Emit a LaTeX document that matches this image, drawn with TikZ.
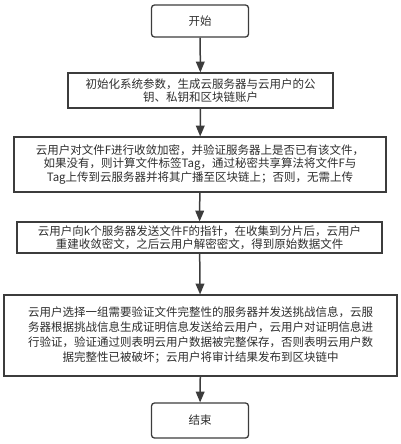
\documentclass[tikz,border=0pt]{standalone}
\usepackage{fontspec}
\setmainfont{Noto Sans CJK SC}
\usepackage{tikz}
\usetikzlibrary{arrows}
\definecolor{linegray}{RGB}{60,60,60}
\definecolor{textgray}{RGB}{45,45,45}
\tikzstyle{line} = [draw=linegray, -{triangle 45}, line width=1.5pt]
\tikzstyle{block} = [draw=linegray, line width=1.3pt, rectangle, align=center, inner sep=0pt, text=textgray]
\tikzstyle{terminal} = [block, rounded corners=3pt, minimum width=97pt]

\begin{document}
\begin{tikzpicture}[x=1pt,y=-1pt]
	\tikzstyle{every node}=[font=\fontsize{11.5}{13.5}\selectfont]
	\useasboundingbox (0,0) rectangle (401,444);

	% ------------------- Boxes ------------------- %
	\node[terminal, minimum height=32pt] (start) at (200,21) {开始};
	\node[block, minimum width=265pt, minimum height=35pt] (init) at (200.5,90.5)
		{初始化系统参数，生成云服务器与云用户的公\\钥、私钥和区块链账户};
	\node[block, minimum width=372pt, minimum height=55pt] (upload) at (200,164.5)
		{云用户对文件F进行收敛加密，并验证服务器上是否已有该文件，\\如果没有，则计算文件标签Tag，通过秘密共享算法将文件F与\\Tag上传到云服务器并将其广播至区块链上；否则，无需上传};
	\node[block, minimum width=365pt, minimum height=31pt] (download) at (199.5,237.5)
		{云用户向k个服务器发送文件F的指针，在收集到分片后，云用户\\重建收敛密文，之后云用户解密密文，得到原始数据文件};
	\node[block, minimum width=393pt, minimum height=81pt, font=\fontsize{11.5}{15}\selectfont] (audit) at (200.5,335.5)
		{云用户选择一组需要验证文件完整性的服务器并发送挑战信息，云服\\务器根据挑战信息生成证明信息发送给云用户，云用户对证明信息进\\行验证，验证通过则表明云用户数据被完整保存，否则表明云用户数\\据完整性已被破坏；云用户将审计结果发布到区块链中};
	\node[terminal, minimum height=35pt] (end) at (200,420.5) {结束};

	% ------------------- Arrows ------------------- %
	\path[line] (start) -- (init);
	\path[line] (init) -- (upload);
	\path[line] (upload) -- (download);
	\path[line] (download) -- (audit);
	\path[line] (audit) -- (end);
\end{tikzpicture}
\end{document}
